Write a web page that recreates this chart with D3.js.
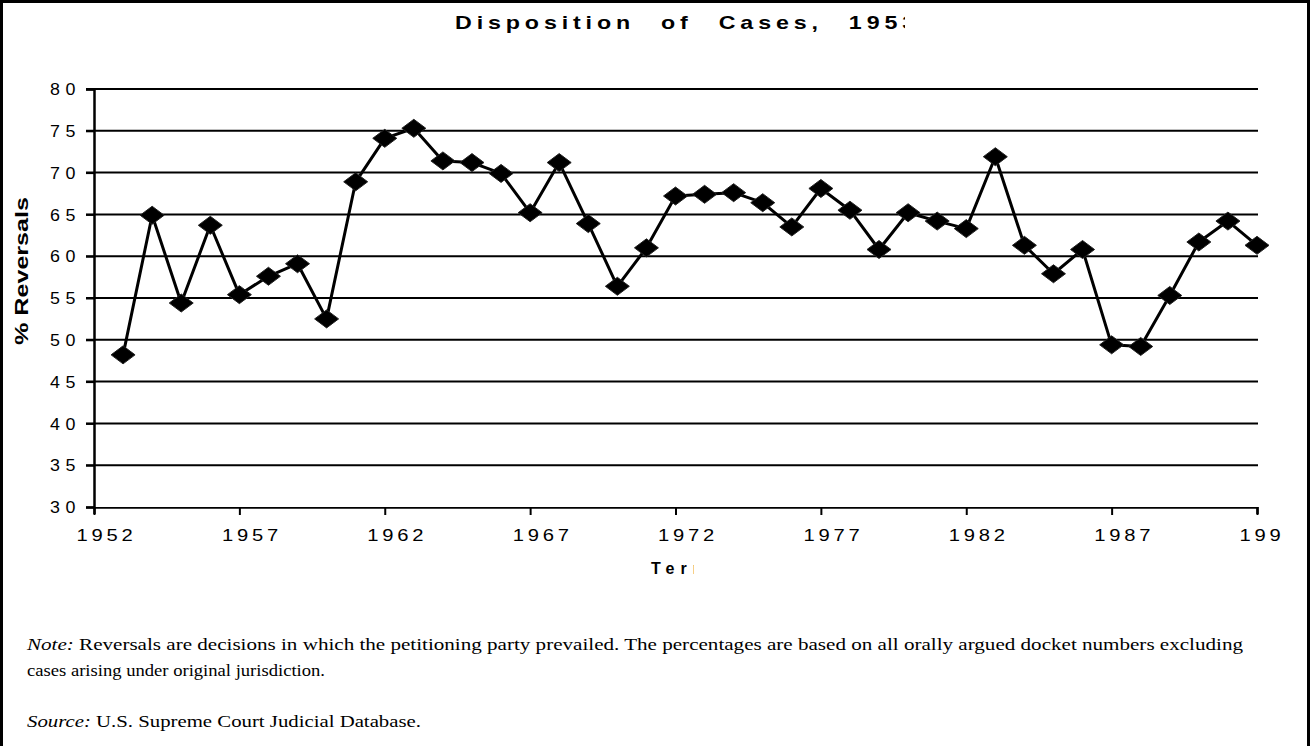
<!DOCTYPE html>
<html>
<head>
<meta charset="utf-8">
<script src="https://d3js.org/d3.v7.min.js"></script>
<style>
  body { margin: 0; background: #fff; }
  svg { display: block; }
</style>
</head>
<body>
<div class="vis"></div>
<script>
  // reversal rate by term, 1953-1992
  var years = [1953, 1954, 1955, 1956, 1957, 1958, 1959, 1960, 1961, 1962,
               1963, 1964, 1965, 1966, 1967, 1968, 1969, 1970, 1971, 1972,
               1973, 1974, 1975, 1976, 1977, 1978, 1979, 1980, 1981, 1982,
               1983, 1984, 1985, 1986, 1987, 1988, 1989, 1990, 1991, 1992];
  var reversals = [48.2, 64.9, 54.4, 63.7, 55.4, 57.6, 59.1, 52.5, 68.9, 74.1,
                   75.3, 71.4, 71.2, 69.9, 65.2, 71.2, 63.9, 56.4, 61.0, 67.2,
                   67.4, 67.6, 66.4, 63.5, 68.1, 65.5, 60.8, 65.2, 64.2, 63.3,
                   71.9, 61.3, 57.9, 60.8, 49.4, 49.2, 55.3, 61.7, 64.2, 61.3];
  var xTicks = [1952, 1957, 1962, 1967, 1972, 1977, 1982, 1987, 1992];
  var yTicks = [30, 35, 40, 45, 50, 55, 60, 65, 70, 75, 80];

  var width = 1310, height = 746;
  var svg = d3.select('.vis').append('svg')
    .attr('width', width)
    .attr('height', height);

  var x = d3.scaleLinear().domain([1952, 1992]).range([94, 1257]);
  var y = d3.scaleLinear().domain([30, 80]).range([507, 89]);

  var defs = svg.append('defs');
  function clip(id, x0, w) {
    defs.append('clipPath').attr('id', id)
      .append('rect').attr('x', x0).attr('y', 0).attr('width', w).attr('height', height);
  }
  clip('clipTitle', 0, 905);
  clip('clipTerm', 0, 694);
  clip('clipTicks', 0, 1283);

  // outer frame
  svg.append('rect')
    .attr('x', 1.5).attr('y', 1.5)
    .attr('width', width - 3).attr('height', height + 20)
    .attr('fill', 'none')
    .attr('stroke', '#000')
    .attr('stroke-width', 3);

  // title (cut off at the right in the original)
  svg.append('text')
    .attr('clip-path', 'url(#clipTitle)')
    .attr('x', 455).attr('y', 29)
    .attr('textLength', 465)
    .attr('lengthAdjust', 'spacingAndGlyphs')
    .style('font-family', 'Liberation Sans, Arial, sans-serif')
    .style('font-weight', 'bold')
    .style('font-size', '19px')
    .style('letter-spacing', '4px')
    .style('word-spacing', '12px')
    .text('Disposition of Cases, 1953');

  // gridlines
  svg.append('g')
    .selectAll('line')
    .data(yTicks.slice(1))
    .join('line')
    .attr('x1', 86).attr('x2', 1258)
    .attr('y1', d => y(d)).attr('y2', d => y(d))
    .attr('stroke', '#000')
    .attr('stroke-width', 2);

  // y axis
  var yAxis = svg.append('g')
    .attr('transform', 'translate(94,0)')
    .call(d3.axisLeft(y).tickValues(yTicks).tickSize(8).tickFormat(d3.format('d')));
  yAxis.select('.domain').attr('stroke-width', 2.5);
  yAxis.selectAll('.tick line').attr('stroke-width', 2);
  yAxis.selectAll('.tick text')
    .attr('text-anchor', 'start')
    .attr('x', -44)
    .attr('dy', '0.36em')
    .attr('textLength', 31)
    .attr('lengthAdjust', 'spacingAndGlyphs')
    .style('letter-spacing', '5px')
    .style('font-family', 'Liberation Sans, Arial, sans-serif')
    .style('font-size', '16px')
    .attr('fill', '#000');

  // x axis
  var xAxis = svg.append('g')
    .attr('clip-path', 'url(#clipTicks)')
    .attr('transform', 'translate(0,' + y(30) + ')')
    .call(d3.axisBottom(x).tickValues(xTicks).tickSize(7).tickFormat(d3.format('d')));
  xAxis.select('.domain').attr('stroke-width', 2.5);
  xAxis.selectAll('.tick line')
    .attr('y1', -7).attr('y2', 8)
    .attr('stroke-width', 2);
  xAxis.selectAll('.tick text')
    .attr('text-anchor', 'start')
    .attr('x', -18)
    .attr('y', 34)
    .attr('dy', 0)
    .attr('textLength', 60)
    .attr('lengthAdjust', 'spacingAndGlyphs')
    .style('letter-spacing', '3px')
    .style('font-family', 'Liberation Sans, Arial, sans-serif')
    .style('font-size', '16px')
    .attr('fill', '#000');

  // axis titles
  svg.append('text')
    .attr('transform', 'translate(28,271) rotate(-90)')
    .attr('text-anchor', 'middle')
    .attr('textLength', 148)
    .attr('lengthAdjust', 'spacingAndGlyphs')
    .style('font-family', 'Liberation Sans, Arial, sans-serif')
    .style('font-weight', 'bold')
    .style('font-size', '18px')
    .text('% Reversals');

  svg.append('text')
    .attr('clip-path', 'url(#clipTerm)')
    .attr('x', 651).attr('y', 574)
    .style('letter-spacing', '6px')
    .style('font-family', 'Liberation Sans, Arial, sans-serif')
    .style('font-weight', 'bold')
    .style('font-size', '16px')
    .text('Term');

  // series line
  var line = d3.line()
    .x((d, i) => x(years[i]))
    .y(d => y(d));
  svg.append('path')
    .datum(reversals)
    .attr('d', line)
    .attr('fill', 'none')
    .attr('stroke', '#000')
    .attr('stroke-width', 3)
    .attr('stroke-linejoin', 'round');

  // diamond markers
  svg.append('g')
    .selectAll('path')
    .data(reversals)
    .join('path')
    .attr('transform', (d, i) => 'translate(' + x(years[i]) + ',' + y(d) + ')')
    .attr('d', 'M0,-9L12,0L0,9L-12,0Z')
    .attr('fill', '#000')
    .attr('stroke', '#222')
    .attr('stroke-width', 1);

  // notes
  var serif = 'Liberation Serif, Times New Roman, serif';
  var note = svg.append('text')
    .attr('x', 27).attr('y', 650)
    .attr('textLength', 1216)
    .attr('lengthAdjust', 'spacingAndGlyphs')
    .style('font-family', serif)
    .style('font-size', '16px');
  note.append('tspan').style('font-style', 'italic').text('Note:');
  note.append('tspan').text(' Reversals are decisions in which the petitioning party prevailed. The percentages are based on all orally argued docket numbers excluding');

  svg.append('text')
    .attr('x', 27).attr('y', 676)
    .attr('textLength', 298)
    .attr('lengthAdjust', 'spacingAndGlyphs')
    .style('font-family', serif)
    .style('font-size', '16px')
    .text('cases arising under original jurisdiction.');

  var src = svg.append('text')
    .attr('x', 27).attr('y', 727)
    .attr('textLength', 394)
    .attr('lengthAdjust', 'spacingAndGlyphs')
    .style('font-family', serif)
    .style('font-size', '16px');
  src.append('tspan').style('font-style', 'italic').text('Source:');
  src.append('tspan').text(' U.S. Supreme Court Judicial Database.');
</script>
</body>
</html>
